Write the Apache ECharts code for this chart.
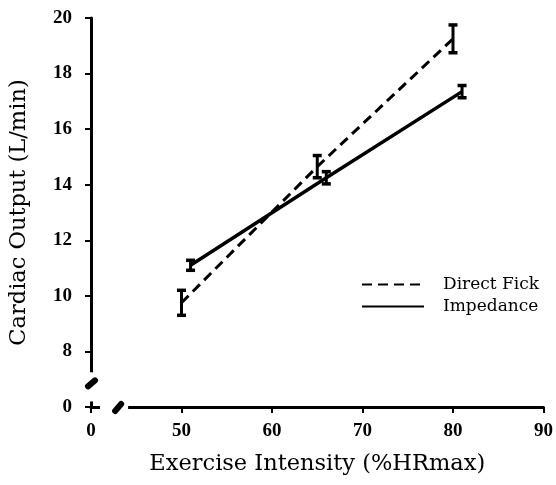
<!DOCTYPE html>
<html>
<head>
<meta charset="utf-8">
<script src="https://cdn.jsdelivr.net/npm/echarts@6/dist/echarts.min.js"></script>
<style>
  html, body { margin: 0; padding: 0; background: #fff; }
  #chart { width: 556px; height: 485px; }
</style>
</head>
<body>
<div id="chart"></div>
<script>
// values: exercise intensity (%HRmax) vs cardiac output (L/min)
var fickX = [50, 65, 80]
var fickY = [9.75, 14.65, 19.25]
var fickErr = [0.45, 0.4, 0.5]
var impX = [51, 66, 81]
var impY = [11.1, 14.25, 17.35]
var impErr = [0.18, 0.22, 0.22]
var seriesNames = ['Direct Fick', 'Impedance']

// broken axes: the axis start stands for 0
var xZeroAt = 40
var yZeroAt = 6
var xTickLabels = { 40: '0', 50: '50', 60: '60', 70: '70', 80: '80', 90: '90' }
var yTickLabels = { 6: '0', 8: '8', 10: '10', 12: '12', 14: '14', 16: '16', 18: '18', 20: '20' }

var serif = '"DejaVu Serif", "Liberation Serif", serif'
var times = '"Liberation Serif", serif'

function pairs(xs, ys) {
  return xs.map(function (x, i) { return [x, ys[i]] })
}
function bars(xs, ys, es) {
  return xs.map(function (x, i) { return [x, ys[i] - es[i], ys[i] + es[i]] })
}

function renderErr(params, api) {
  var top = api.coord([api.value(0), api.value(2)])
  var bot = api.coord([api.value(0), api.value(1)])
  var w = 4.5
  var st = { stroke: '#000', lineWidth: 3 }
  var cap = { stroke: '#000', lineWidth: 3.5 }
  return {
    type: 'group',
    children: [
      { type: 'line', shape: { x1: top[0], y1: top[1], x2: bot[0], y2: bot[1] }, style: st },
      { type: 'line', shape: { x1: top[0] - w, y1: top[1], x2: top[0] + w, y2: top[1] }, style: cap },
      { type: 'line', shape: { x1: bot[0] - w, y1: bot[1], x2: bot[0] + w, y2: bot[1] }, style: cap }
    ]
  }
}

var chart = echarts.init(document.getElementById('chart'))
chart.setOption({
  animation: false,
  backgroundColor: '#fff',
  grid: { left: 91, right: 12, top: 18, bottom: 78 },
  legend: {
    data: seriesNames,
    orient: 'vertical',
    left: 356,
    top: 271,
    itemWidth: 62,
    itemHeight: 14,
    itemGap: 5,
    itemStyle: { opacity: 0 },
    textStyle: { fontFamily: serif, fontSize: 17, color: '#000', padding: [0, 0, 0, 14] }
  },
  xAxis: {
    type: 'value',
    min: xZeroAt,
    max: 90,
    interval: 10,
    name: 'Exercise Intensity (%HRmax)',
    nameLocation: 'middle',
    nameGap: 46,
    nameTextStyle: { fontFamily: serif, fontSize: 22.5, color: '#000' },
    splitLine: { show: false },
    axisLine: { lineStyle: { color: '#000', width: 3 } },
    axisTick: { length: 6, lineStyle: { color: '#000', width: 2 } },
    axisLabel: {
      margin: 15,
      fontFamily: times, fontSize: 19, fontWeight: 'bold', color: '#000',
      formatter: function (v) { return xTickLabels[v] || '' }
    }
  },
  yAxis: {
    type: 'value',
    min: yZeroAt,
    max: 20,
    interval: 2,
    name: 'Cardiac Output (L/min)',
    nameLocation: 'middle',
    nameGap: 60,
    nameTextStyle: { fontFamily: serif, fontSize: 22.5, color: '#000' },
    splitLine: { show: false },
    axisLine: { show: true, lineStyle: { color: '#000', width: 3 } },
    axisTick: { show: true, length: 6, lineStyle: { color: '#000', width: 2 } },
    axisLabel: {
      margin: 19,
      fontFamily: times, fontSize: 19, fontWeight: 'bold', color: '#000',
      formatter: function (v) { return yTickLabels[v] || '' }
    }
  },
  series: [
    {
      name: seriesNames[0],
      type: 'line',
      symbol: 'none',
      data: pairs(fickX, fickY),
      lineStyle: { color: '#000', width: 3, type: [10, 6] },
      itemStyle: { color: '#000' }
    },
    {
      name: seriesNames[1],
      type: 'line',
      symbol: 'none',
      data: pairs(impX, impY),
      lineStyle: { color: '#000', width: 3.5 },
      itemStyle: { color: '#000' }
    },
    { type: 'custom', renderItem: renderErr, data: bars(fickX, fickY, fickErr), z: 5 },
    { type: 'custom', renderItem: renderErr, data: bars(impX, impY, impErr), z: 5 }
  ]
})

// axis breaks: blank out a stretch of each axis and put a slash in it
function breakMarks() {
  var o = chart.convertToPixel({ gridIndex: 0 }, [xZeroAt, yZeroAt])
  var xa = chart.convertToPixel({ gridIndex: 0 }, [41, yZeroAt])[0]
  var xb = chart.convertToPixel({ gridIndex: 0 }, [44.1, yZeroAt])[0]
  var xm = chart.convertToPixel({ gridIndex: 0 }, [43, yZeroAt])[0]
  var ya = chart.convertToPixel({ gridIndex: 0 }, [xZeroAt, 6.2])[1]
  var yb = chart.convertToPixel({ gridIndex: 0 }, [xZeroAt, 7.25])[1]
  var ym = chart.convertToPixel({ gridIndex: 0 }, [xZeroAt, 6.85])[1]
  var slash = { stroke: '#000', lineWidth: 6, lineCap: 'round' }
  chart.setOption({
    graphic: [
      { type: 'rect', shape: { x: xa, y: o[1] - 3, width: xb - xa, height: 6 }, style: { fill: '#fff' }, z: 100 },
      { type: 'rect', shape: { x: o[0] - 3, y: yb, width: 6, height: ya - yb }, style: { fill: '#fff' }, z: 100 },
      { type: 'line', shape: { x1: xm - 3, y1: o[1] + 4, x2: xm + 3, y2: o[1] - 3 }, style: slash, z: 101 },
      { type: 'line', shape: { x1: o[0] - 3, y1: ym + 3, x2: o[0] + 4, y2: ym - 3 }, style: slash, z: 101 }
    ]
  })
}
breakMarks()
</script>
</body>
</html>
